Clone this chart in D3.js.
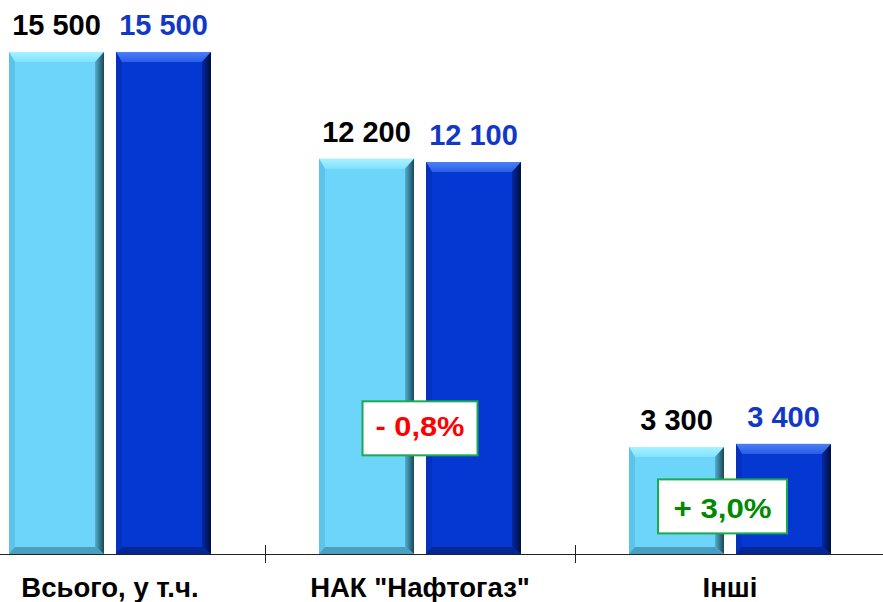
<!DOCTYPE html>
<html><head><meta charset="utf-8">
<script src="https://cdn.jsdelivr.net/npm/d3@7"></script>
<style>html,body{margin:0;padding:0;background:#fff;}svg{display:block;}</style>
</head><body>
<svg id="chart" width="883" height="602"></svg>
<script>
const categories = ["Всього, у т.ч.", "НАК \"Нафтогаз\"", "Інші"];
const seriesNames = ["prev", "curr"];
const prevValues = [15500, 12200, 3300];
const currValues = [15500, 12100, 3400];
const changeLabels = ["", "- 0,8%", "+ 3,0%"];
const changeSign = [0, -1, 1];

const W = 883, H = 602;
const baseY = 554;
const svg = d3.select("#chart");
const defs = svg.append("defs");

const x0 = d3.scaleBand().domain(categories).range([-45, 885]).padding(0);
const y = d3.scaleLinear().domain([0, 17105]).range([baseY, 0]);
const fmt = d3.formatLocale({decimal: ",", thousands: " ", grouping: [3], currency: ["", ""]}).format(",d");

const styles = {
  prev: {face: "#6dd5fa", top: ["#a6f2ff", "#82e2fc"], left: "#5cc4ea", right: ["#4fb0d2", "#1c4656"], bottom: "#4a9fc0", label: "#000000"},
  curr: {face: "#0538d2", top: ["#4a80f8", "#2a5ce8"], left: "#0431c0", right: ["#0428a6", "#000f3c"], bottom: "#032894", label: "#1238c8"}
};
Object.entries(styles).forEach(([k, s]) => {
  const gt = defs.append("linearGradient").attr("id", "top-" + k).attr("x1", 0).attr("y1", 0).attr("x2", 0).attr("y2", 1);
  gt.append("stop").attr("offset", "0%").attr("stop-color", s.top[0]);
  gt.append("stop").attr("offset", "100%").attr("stop-color", s.top[1]);
  const gr = defs.append("linearGradient").attr("id", "right-" + k).attr("x1", 0).attr("y1", 0).attr("x2", 1).attr("y2", 0);
  gr.append("stop").attr("offset", "0%").attr("stop-color", s.right[0]);
  gr.append("stop").attr("offset", "100%").attr("stop-color", s.right[1]);
});

const data = categories.map((c, i) => ({cat: c, vals: [
  {s: "prev", v: prevValues[i]}, {s: "curr", v: currValues[i]}]}));

const groups = svg.selectAll("g.grp").data(data).enter().append("g").attr("class", "grp");
const bevT = 10, bevL = 6, bevR = 9, bevB = 7;
groups.each(function(d) {
  const cx = x0(d.cat) + x0.bandwidth() / 2;
  const x1 = d3.scaleBand().domain(seriesNames).range([cx - 101, cx + 101]).paddingInner(12 / 107);
  const g = d3.select(this);
  d.vals.forEach(b => {
    const s = styles[b.s];
    const xl = x1(b.s), xr = xl + x1.bandwidth();
    const yt = y(b.v), yb = y(0);
    const bg = g.append("g");
    bg.append("rect").attr("x", xl).attr("y", yt).attr("width", xr - xl).attr("height", yb - yt).attr("fill", s.face);
    const pts = a => a.map(p => p.join(",")).join(" ");
    bg.append("polygon").attr("points", pts([[xl, yt], [xr, yt], [xr - bevR, yt + bevT], [xl + bevL, yt + bevT]])).attr("fill", `url(#top-${b.s})`);
    bg.append("polygon").attr("points", pts([[xl, yt], [xl + bevL, yt + bevT], [xl + bevL, yb - bevB], [xl, yb]])).attr("fill", s.left);
    bg.append("polygon").attr("points", pts([[xr, yt], [xr, yb], [xr - bevR, yb - bevB], [xr - bevR, yt + bevT]])).attr("fill", `url(#right-${b.s})`);
    bg.append("polygon").attr("points", pts([[xl, yb], [xl + bevL, yb - bevB], [xr - bevR, yb - bevB], [xr, yb]])).attr("fill", s.bottom);
    g.append("text").attr("x", (xl + xr) / 2).attr("y", yt - 17)
      .attr("text-anchor", "middle").attr("font-family", "Liberation Sans, Arial, sans-serif")
      .attr("font-weight", "bold").attr("font-size", 29).attr("fill", s.label).text(fmt(b.v));
  });
});

// axis
svg.append("line").attr("x1", 0).attr("x2", W).attr("y1", baseY + 0.5).attr("y2", baseY + 0.5).attr("stroke", "#222").attr("stroke-width", 1);
categories.slice(1).forEach(c => {
  const tx = Math.round(x0(c)) + 0.5;
  svg.append("line").attr("x1", tx).attr("x2", tx).attr("y1", baseY - 9).attr("y2", baseY + 9).attr("stroke", "#222").attr("stroke-width", 1);
});
categories.forEach(c => {
  svg.append("text").attr("x", x0(c) + x0.bandwidth() / 2).attr("y", 597)
    .attr("text-anchor", "middle").attr("font-family", "Liberation Sans, Arial, sans-serif")
    .attr("font-weight", "bold").attr("font-size", 27.5).attr("fill", "#000").text(c);
});

// change annotation boxes
const boxAnchor = [null, 3880, 1470];
const boxW = [0, 115, 129];
const boxH = [0, 54, 54];
const boxDx = [0, 0, -7.5];
const textLen = [0, 89, 98];
const textDy = [0, 8, 12];
changeLabels.forEach((lbl, i) => {
  if (!lbl) return;
  const cx = x0(categories[i]) + x0.bandwidth() / 2 + boxDx[i];
  const cy = y(boxAnchor[i]);
  const col = changeSign[i] < 0 ? "#ff0000" : "#008a00";
  svg.append("rect").attr("x", cx - boxW[i] / 2).attr("y", cy - boxH[i] / 2).attr("width", boxW[i]).attr("height", boxH[i])
    .attr("fill", "#fff").attr("stroke", "#1aaa50").attr("stroke-width", 2);
  svg.append("text").attr("x", cx).attr("y", cy + textDy[i]).attr("text-anchor", "middle")
    .attr("font-family", "Liberation Sans, Arial, sans-serif").attr("font-weight", "bold")
    .attr("font-size", 27).attr("textLength", textLen[i]).attr("lengthAdjust", "spacingAndGlyphs")
    .attr("fill", col).text(lbl);
});
</script>
</body></html>
